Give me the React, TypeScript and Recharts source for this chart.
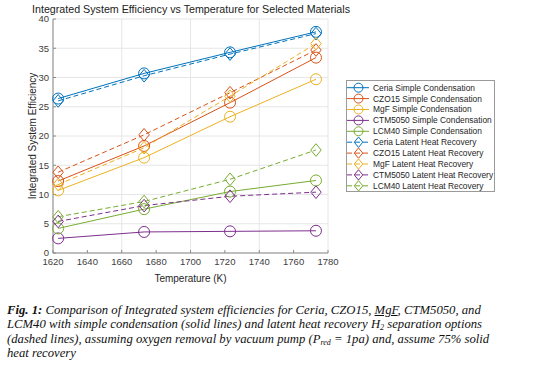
import React from "react";
import { CartesianGrid, Line, LineChart, XAxis, YAxis } from "recharts";

const temps = [1623, 1673, 1723, 1773];

const ceriaSimple = [26.4, 30.7, 34.3, 37.8];
const czoSimple = [12.3, 18.3, 25.7, 33.4];
const mgfSimple = [10.7, 16.3, 23.3, 29.7];
const ctmSimple = [2.5, 3.6, 3.7, 3.8];
const lcmSimple = [4.2, 7.5, 10.5, 12.4];

const ceriaLatent = [26.0, 30.3, 34.0, 37.5];
const czoLatent = [13.8, 20.2, 27.4, 34.7];
const mgfLatent = [11.7, 18.0, 26.8, 35.8];
const ctmLatent = [5.4, 8.1, 9.7, 10.4];
const lcmLatent = [6.2, 8.8, 12.6, 17.6];

const xTicks = [1620, 1640, 1660, 1680, 1700, 1720, 1740, 1760, 1780];
const yTicks = [0, 5, 10, 15, 20, 25, 30, 35, 40];

const series = [
  { key: "ceriaS", name: "Ceria Simple Condensation", values: ceriaSimple, color: "#0072BD", dashed: false },
  { key: "czoS", name: "CZO15 Simple Condensation", values: czoSimple, color: "#D95319", dashed: false },
  { key: "mgfS", name: "MgF Simple Condensation", values: mgfSimple, color: "#EDB120", dashed: false },
  { key: "ctmS", name: "CTM5050 Simple Condensation", values: ctmSimple, color: "#7E2F8E", dashed: false },
  { key: "lcmS", name: "LCM40 Simple Condensation", values: lcmSimple, color: "#77AC30", dashed: false },
  { key: "ceriaL", name: "Ceria Latent Heat Recovery", values: ceriaLatent, color: "#0072BD", dashed: true },
  { key: "czoL", name: "CZO15 Latent Heat Recovery", values: czoLatent, color: "#D95319", dashed: true },
  { key: "mgfL", name: "MgF Latent Heat Recovery", values: mgfLatent, color: "#EDB120", dashed: true },
  { key: "ctmL", name: "CTM5050 Latent Heat Recovery", values: ctmLatent, color: "#7E2F8E", dashed: true },
  { key: "lcmL", name: "LCM40 Latent Heat Recovery", values: lcmLatent, color: "#77AC30", dashed: true },
];

const data = temps.map((t, i) => {
  const row: Record<string, number> = { t };
  series.forEach((s) => (row[s.key] = s.values[i]));
  return row;
});

const font = "Arial, 'Liberation Sans', Helvetica, sans-serif";
const DASH = "5 3";

function Marker({ cx, cy, color, diamond, r }: { cx: number; cy: number; color: string; diamond: boolean; r: number }) {
  if (diamond) {
    const w = r * 0.95;
    const h = r * 1.15;
    return (
      <path
        d={`M${cx},${cy - h}L${cx + w},${cy}L${cx},${cy + h}L${cx - w},${cy}Z`}
        fill="none"
        stroke={color}
        strokeWidth={1}
      />
    );
  }
  return <circle cx={cx} cy={cy} r={r} fill="none" stroke={color} strokeWidth={1} />;
}

function Legend() {
  const rowH = 10.9;
  return (
    <svg
      width={149}
      height={112}
      style={{ position: "absolute", left: 346, top: 80 }}
    >
      <rect x={0.5} y={0.5} width={148} height={111} fill="#fff" stroke="#9a9a9a" />
      {series.map((s, i) => {
        const y = 7.7 + i * rowH;
        return (
          <g key={s.key}>
            <line
              x1={1}
              x2={23}
              y1={y}
              y2={y}
              stroke={s.color}
              strokeWidth={1}
              strokeDasharray={s.dashed ? DASH : undefined}
            />
            <Marker cx={12.5} cy={y} color={s.color} diamond={s.dashed} r={4.5} />
            <text x={27} y={y} dy="0.35em" fontSize={8.4} fontFamily={font} fill="#262626">
              {s.name}
            </text>
          </g>
        );
      })}
    </svg>
  );
}

export default function App() {
  return (
    <div
      style={{
        position: "fixed",
        left: 0,
        top: 0,
        width: 557,
        height: 380,
        background: "#fff",
        overflow: "hidden",
      }}
    >
      <div
        style={{
          position: "absolute",
          left: 0,
          top: 3,
          width: 382,
          textAlign: "center",
          fontFamily: font,
          fontSize: 10.7,
          color: "#222",
          whiteSpace: "nowrap",
        }}
      >
        Integrated System Efficiency vs Temperature for Selected Materials
      </div>
      <div style={{ position: "absolute", left: 0, top: 0 }}>
        <LineChart width={557} height={290} data={data} margin={{ top: 19, right: 229, bottom: 0, left: 0 }}>
          <CartesianGrid stroke="#e6e6e6" strokeWidth={1} />
          <XAxis
            dataKey="t"
            type="number"
            domain={[1620, 1780]}
            ticks={xTicks}
            height={37}
            tickSize={-3}
            tickMargin={8}
            stroke="#8a8a8a"
            tick={{ fill: "#404040", fontSize: 9.5, fontFamily: font }}
            label={{
              value: "Temperature (K)",
              position: "insideBottom",
              offset: 8,
              style: { fill: "#262626", fontSize: 10, fontFamily: font },
            }}
          />
          <YAxis
            type="number"
            domain={[0, 40]}
            ticks={yTicks}
            width={53}
            tickSize={-3}
            tickMargin={7}
            stroke="#8a8a8a"
            tick={{ fill: "#404040", fontSize: 9.5, fontFamily: font }}
            label={{
              value: "Integrated System Efficiency",
              angle: -90,
              position: "insideLeft",
              offset: 32,
              style: { textAnchor: "middle", fill: "#262626", fontSize: 10, fontFamily: font },
            }}
          />
          {series.map((s) => (
            <Line
              key={s.key}
              dataKey={s.key}
              stroke={s.color}
              strokeWidth={1}
              strokeDasharray={s.dashed ? DASH : undefined}
              isAnimationActive={false}
              activeDot={false}
              dot={(p: any) => (
                <Marker key={`${s.key}-${p.index}`} cx={p.cx} cy={p.cy} color={s.color} diamond={s.dashed} r={5.5} />
              )}
            />
          ))}
        </LineChart>
      </div>
      <Legend />
      <div
        style={{
          position: "absolute",
          left: 7,
          top: 303,
          fontFamily: "'Times New Roman', 'Liberation Serif', serif",
          fontStyle: "italic",
          fontSize: 12.7,
          lineHeight: "14.4px",
          color: "#111",
          whiteSpace: "nowrap",
        }}
      >
        <div>
          <b>Fig. 1:</b> Comparison of Integrated system efficiencies for Ceria, CZO15,{" "}
          <span style={{ textDecoration: "underline" }}>MgF</span>, CTM5050, and
        </div>
        <div>
          LCM40 with simple condensation (solid lines) and latent heat recovery H
          <sub style={{ fontSize: 8, verticalAlign: "-2px", lineHeight: 0 }}>2</sub> separation options
        </div>
        <div>
          (dashed lines), assuming oxygen removal by vacuum pump (P
          <sub style={{ fontSize: 8, verticalAlign: "-2px", lineHeight: 0 }}>red</sub> = 1pa) and, assume 75% solid
        </div>
        <div>heat recovery</div>
      </div>
    </div>
  );
}
